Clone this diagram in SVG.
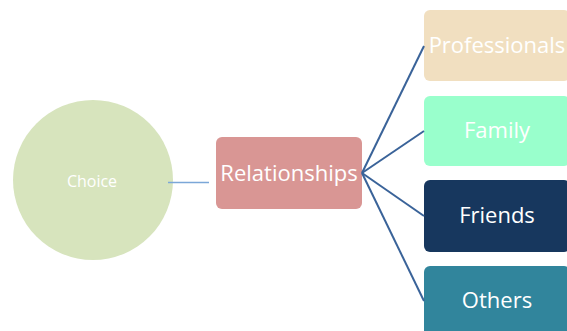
<svg xmlns="http://www.w3.org/2000/svg" width="567" height="331" viewBox="0 0 567 331">
<style>
text{font-family:"Open Sans","Noto Sans",sans-serif;fill:#ffffff;text-anchor:middle}
.big{font-size:22px}
.conn{stroke:#3a6399;stroke-width:2;fill:none}
</style>
<rect width="567" height="331" fill="#ffffff"/>
<g id="choice">
<circle cx="93" cy="180" r="80" fill="#d7e4bd"/>
<text x="92" y="187" style="font-size:16px">Choice</text>
</g>
<g id="relationships">
<rect x="216" y="137" width="146" height="72" rx="6" fill="#d99694"/>
<text class="big" x="289" y="181">Relationships</text>
</g>
<g id="professionals">
<rect x="424" y="10" width="146" height="71" rx="6" fill="#f1dfc0"/>
<text class="big" x="497" y="53">Professionals</text>
</g>
<g id="family">
<rect x="424" y="96" width="146" height="70" rx="6" fill="#99ffcc"/>
<text class="big" x="497" y="138">Family</text>
</g>
<g id="friends">
<rect x="424" y="180" width="146" height="72" rx="6" fill="#17375e"/>
<text class="big" x="497" y="223">Friends</text>
</g>
<g id="others">
<rect x="424" y="266" width="146" height="72" rx="6" fill="#31859c"/>
<text class="big" x="497" y="308">Others</text>
</g>
<g id="connectors">
<line x1="168" y1="182.5" x2="209" y2="182.5" stroke="#7ba7d8" stroke-width="1.3"/>
<line class="conn" x1="362" y1="173" x2="424" y2="46"/>
<line class="conn" x1="362" y1="173" x2="424" y2="131"/>
<line class="conn" x1="362" y1="173" x2="424" y2="216"/>
<line class="conn" x1="362" y1="173" x2="424" y2="301"/>
</g>
</svg>
